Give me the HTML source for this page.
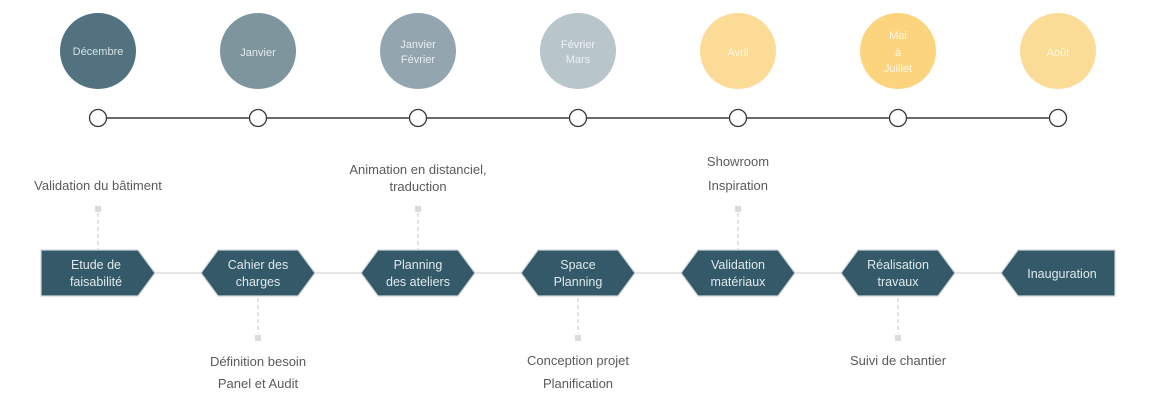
<!DOCTYPE html>
<html><head><meta charset="utf-8"><style>
html,body{margin:0;padding:0;background:#fff;}
svg{display:block;}
text{font-family:"Liberation Sans",sans-serif;}
</style></head><body>
<svg width="1162" height="404" viewBox="0 0 1162 404" xmlns="http://www.w3.org/2000/svg">
<!-- top circles -->
<g text-anchor="middle" font-size="11">
<circle cx="98" cy="51" r="38" fill="#52727f"/>
<text x="98" y="55" fill="#d6e2e6">Décembre</text>
<circle cx="258" cy="51" r="38" fill="#7f959e"/>
<text x="258" y="56" fill="#e2eaed">Janvier</text>
<circle cx="418" cy="51" r="38" fill="#93a6af"/>
<text x="418" y="48" fill="#e6ecef">Janvier</text>
<text x="418" y="63" fill="#e6ecef">Février</text>
<circle cx="578" cy="51" r="38" fill="#b8c5cb"/>
<text x="578" y="48" fill="#eef2f4">Février</text>
<text x="578" y="63" fill="#eef2f4">Mars</text>
<circle cx="738" cy="51" r="38" fill="#fbdb95"/>
<text x="738" y="56" fill="#fff7e4">Avril</text>
<circle cx="898" cy="51" r="38" fill="#fcd47d"/>
<text x="898" y="39" fill="#fff7e4">Mai</text>
<text x="898" y="56" fill="#fff7e4">à</text>
<text x="898" y="72" fill="#fff7e4">Juillet</text>
<circle cx="1058" cy="51" r="38" fill="#fbdc96"/>
<text x="1058" y="56" fill="#fff7e4">Août</text>
</g>
<!-- timeline -->
<line x1="98" y1="118" x2="1058" y2="118" stroke="#3a3a3a" stroke-width="1.5"/>
<g fill="#fff" stroke="#3a3a3a" stroke-width="1.3">
<circle cx="98" cy="118" r="8.5"/><circle cx="258" cy="118" r="8.5"/><circle cx="418" cy="118" r="8.5"/>
<circle cx="578" cy="118" r="8.5"/><circle cx="738" cy="118" r="8.5"/><circle cx="898" cy="118" r="8.5"/>
<circle cx="1058" cy="118" r="8.5"/>
</g>
<!-- process line -->
<line x1="150" y1="273" x2="1005" y2="273" stroke="#d4d8da" stroke-width="1.2"/>
<!-- dashed connectors -->
<g stroke="#d2d2d2" stroke-width="1.2" stroke-dasharray="4,3">
<line x1="98" y1="213" x2="98" y2="249"/>
<line x1="418" y1="213" x2="418" y2="249"/>
<line x1="738" y1="213" x2="738" y2="249"/>
<line x1="258" y1="298" x2="258" y2="334"/>
<line x1="578" y1="298" x2="578" y2="334"/>
<line x1="898" y1="298" x2="898" y2="334"/>
</g>
<g fill="#dcdcdc">
<rect x="95" y="206" width="6" height="6"/>
<rect x="415" y="206" width="6" height="6"/>
<rect x="735" y="206" width="6" height="6"/>
<rect x="255" y="335" width="6" height="6"/>
<rect x="575" y="335" width="6" height="6"/>
<rect x="895" y="335" width="6" height="6"/>
</g>
<!-- shapes -->
<g fill="#345a69" stroke="#cfd5d8" stroke-width="1.2">
<polygon points="41,250 138,250 155,273 138,296 41,296"/>
<polygon points="218,250 298,250 315,273 298,296 218,296 201,273"/>
<polygon points="378,250 458,250 475,273 458,296 378,296 361,273"/>
<polygon points="538,250 618,250 635,273 618,296 538,296 521,273"/>
<polygon points="698,250 778,250 795,273 778,296 698,296 681,273"/>
<polygon points="858,250 938,250 955,273 938,296 858,296 841,273"/>
<polygon points="1018,250 1115,250 1115,296 1018,296 1001,273"/>
</g>
<g text-anchor="middle" font-size="12.5" fill="#dfe8ec">
<text x="96" y="269">Etude de</text><text x="96" y="286">faisabilité</text>
<text x="258" y="269">Cahier des</text><text x="258" y="286">charges</text>
<text x="418" y="269">Planning</text><text x="418" y="286">des ateliers</text>
<text x="578" y="269">Space</text><text x="578" y="286">Planning</text>
<text x="738" y="269">Validation</text><text x="738" y="286">matériaux</text>
<text x="898" y="269">Réalisation</text><text x="898" y="286">travaux</text>
<text x="1062" y="278">Inauguration</text>
</g>
<!-- annotations -->
<g text-anchor="middle" font-size="13" fill="#5a5a5a">
<text x="98" y="190">Validation du bâtiment</text>
<text x="418" y="174">Animation en distanciel,</text>
<text x="418" y="191">traduction</text>
<text x="738" y="166">Showroom</text>
<text x="738" y="190">Inspiration</text>
<text x="258" y="366">Définition besoin</text>
<text x="258" y="388">Panel et Audit</text>
<text x="578" y="365">Conception projet</text>
<text x="578" y="388">Planification</text>
<text x="898" y="365">Suivi de chantier</text>
</g>
</svg>
</body></html>
